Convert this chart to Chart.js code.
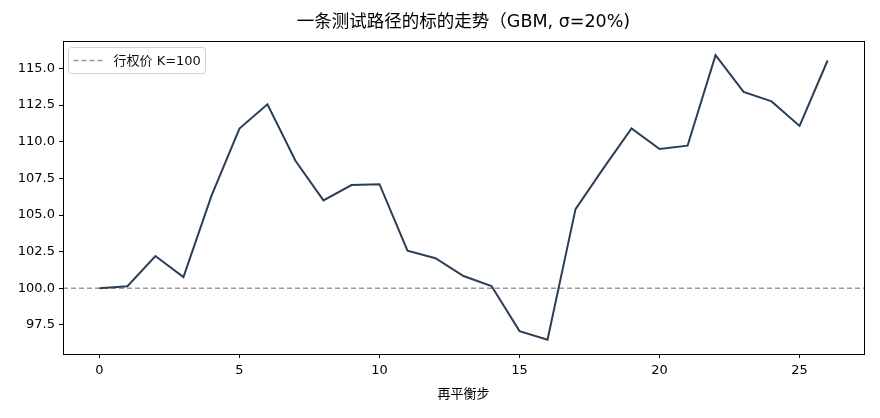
<!DOCTYPE html>
<html>
<head>
<meta charset="utf-8">
<script src="https://cdn.jsdelivr.net/npm/chart.js@4/dist/chart.umd.min.js"></script>
<style>
  html, body { margin: 0; padding: 0; background: #fff; }
  #wrap { width: 880px; height: 418px; }
</style>
</head>
<body>
<div id="wrap"><canvas id="myChart" width="880" height="418"></canvas></div>
<script>
// data
const steps = [0, 1, 2, 3, 4, 5, 6, 7, 8, 9, 10, 11, 12, 13, 14, 15, 16, 17, 18, 19, 20, 21, 22, 23, 24, 25, 26];
const prices = [100.0, 100.14, 102.2, 100.77, 106.3, 110.9, 112.55, 108.7, 106.0, 107.04, 107.1,
                102.57, 102.05, 100.84, 100.16, 97.08, 96.49, 105.4, 108.2, 110.9, 109.5, 109.73,
                115.9, 113.4, 112.75, 111.08, 115.54];
const strike = 100;
const strikeLabel = '行权价 K=100';
const chartTitle = '一条测试路径的标的走势（GBM, σ=20%)';
const xTicks = [0, 5, 10, 15, 20, 25];
const yTicks = [97.5, 100.0, 102.5, 105.0, 107.5, 110.0, 112.5, 115.0];
const xMin = -1.3, xMax = 27.3;
const yMin = 95.52, yMax = 116.87;

const FONT = '"DejaVu Sans", "Noto Sans CJK SC", sans-serif';
const lineColor = '#2c3e55';
const strikeColor = '#999999';

const pricePoints = steps.map((s, i) => ({ x: s, y: prices[i] }));
const strikePoints = [{ x: xMin, y: strike }, { x: xMax, y: strike }];

// frame, title over the plot area, legend box in the top-left corner
const framePlugin = {
  id: 'frame',
  afterDraw(chart) {
    const { ctx, chartArea: a } = chart;
    ctx.save();
    ctx.strokeStyle = '#000';
    ctx.lineWidth = 1;
    ctx.strokeRect(Math.round(a.left) + 0.5, Math.round(a.top) + 0.5,
                   Math.round(a.right - a.left), Math.round(a.bottom - a.top));

    // title centred on the axes like matplotlib
    ctx.fillStyle = '#000';
    ctx.font = '17.5px ' + FONT;
    ctx.textAlign = 'center';
    ctx.textBaseline = 'middle';
    ctx.fillText(chartTitle, (a.left + a.right) / 2, 22);

    // legend
    const ds = chart.data.datasets[1];
    const bx = a.left + 5.5, by = a.top + 6.5, bw = 137, bh = 26;
    ctx.fillStyle = 'rgba(255,255,255,0.8)';
    ctx.strokeStyle = '#d0d0d0';
    ctx.beginPath();
    ctx.roundRect(bx, by, bw, bh, 3);
    ctx.fill();
    ctx.stroke();
    ctx.strokeStyle = ds.borderColor;
    ctx.lineWidth = ds.borderWidth;
    ctx.setLineDash(ds.borderDash);
    ctx.beginPath();
    ctx.moveTo(bx + 5, by + bh / 2);
    ctx.lineTo(bx + 34, by + bh / 2);
    ctx.stroke();
    ctx.setLineDash([]);
    ctx.fillStyle = '#111';
    ctx.font = '13px ' + FONT;
    ctx.textAlign = 'left';
    ctx.fillText(ds.label, bx + 45, by + bh / 2 + 1);
    ctx.restore();
  }
};

const ctx = document.getElementById('myChart').getContext('2d');
new Chart(ctx, {
  type: 'line',
  data: {
    datasets: [
      {
        data: pricePoints,
        borderColor: lineColor,
        borderWidth: 2,
        pointRadius: 0,
        tension: 0,
        fill: false
      },
      {
        label: strikeLabel,
        data: strikePoints,
        borderColor: strikeColor,
        borderWidth: 1.5,
        borderDash: [5, 3],
        pointRadius: 0,
        fill: false
      }
    ]
  },
  options: {
    responsive: false,
    animation: false,
    devicePixelRatio: 1,
    layout: { padding: { left: 0, right: 16, top: 41, bottom: 0 } },
    plugins: {
      legend: { display: false },
      tooltip: { enabled: false },
      title: { display: false }
    },
    scales: {
      x: {
        type: 'linear',
        min: xMin,
        max: xMax,
        afterBuildTicks: (scale) => { scale.ticks = xTicks.map(v => ({ value: v })); },
        afterFit: (scale) => { scale.height = 64; },
        grid: { drawOnChartArea: false, drawTicks: true, tickLength: 4, color: '#000' },
        border: { display: false },
        ticks: {
          color: '#000',
          padding: 5,
          maxRotation: 0,
          font: { family: FONT, size: 13 },
          callback: (v) => String(v)
        },
        title: {
          display: true,
          text: '再平衡步',
          color: '#000',
          font: { family: FONT, size: 13 },
          padding: { top: 0, bottom: 16 }
        }
      },
      y: {
        type: 'linear',
        min: yMin,
        max: yMax,
        afterBuildTicks: (scale) => { scale.ticks = yTicks.map(v => ({ value: v })); },
        afterFit: (scale) => { scale.width = 63; },
        grid: { drawOnChartArea: false, drawTicks: true, tickLength: 4, color: '#000' },
        border: { display: false },
        ticks: {
          color: '#000',
          padding: 4,
          font: { family: FONT, size: 13 },
          callback: (v) => Number(v).toFixed(1)
        }
      }
    }
  },
  plugins: [framePlugin]
});
</script>
</body>
</html>
